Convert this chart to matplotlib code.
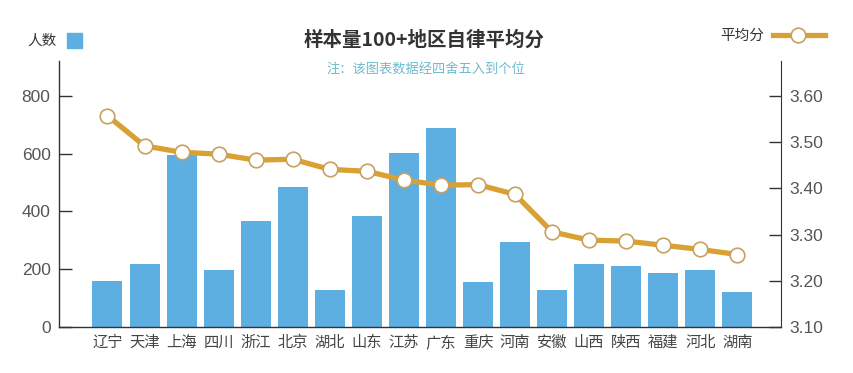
import numpy as np
import matplotlib.pyplot as plt
from matplotlib.patches import Rectangle
from matplotlib.lines import Line2D

plt.rcParams['font.family'] = ['Noto Sans CJK SC', 'DejaVu Sans']

# data
regions = ['辽宁', '天津', '上海', '四川', '浙江', '北京', '湖北', '山东', '江苏',
           '广东', '重庆', '河南', '安徽', '山西', '陕西', '福建', '河北', '湖南']
people = [161, 220, 595, 196, 366, 485, 130, 383, 603,
          689, 155, 293, 127, 217, 213, 187, 196, 123]
avg_score = [3.557, 3.492, 3.478, 3.474, 3.461, 3.463, 3.441, 3.437, 3.418,
             3.407, 3.408, 3.387, 3.306, 3.288, 3.286, 3.277, 3.268, 3.257]

left_ticks = [0, 200, 400, 600, 800]
right_ticks = [3.10, 3.20, 3.30, 3.40, 3.50, 3.60]

bar_c = '#5dafe2'
line_c = '#d9a032'
axis_c = '#333333'
text_c = '#555555'
num_font = ['Liberation Sans', 'DejaVu Sans']

fig = plt.figure(figsize=(8.54, 3.73), dpi=100)
ax = fig.add_axes([0.069, 0.123, 0.846, 0.713])
x = np.arange(len(regions))
ax.bar(x, people, width=0.81, color=bar_c, zorder=2)
ax.set_xlim(-1.31, 18.19)
ax.set_ylim(0, 920)
ax.set_yticks(left_ticks)
ax.set_yticklabels([str(v) for v in left_ticks], family=num_font, fontsize=12.5, color=text_c)
ax.set_xticks(x)
ax.set_xticklabels(regions, fontsize=11, color='#444444')
ax.tick_params(axis='x', length=0, pad=5)
ax.tick_params(axis='y', direction='in', length=9, width=1, color=axis_c, pad=6)
for s in ['top', 'right']:
    ax.spines[s].set_visible(False)
for s in ['left', 'bottom']:
    ax.spines[s].set_color(axis_c)
    ax.spines[s].set_linewidth(1)

ax2 = ax.twinx()
ax2.set_ylim(3.10, 3.10 + 920 / 1600)
ax2.plot(x, avg_score, color=line_c, lw=3.8, solid_capstyle='round', zorder=3)
ax2.plot(x, avg_score, 'o', ms=10.5, mfc='white', mec='#c8a060', mew=1.2, zorder=4)
ax2.set_yticks(right_ticks)
ax2.set_yticklabels(['%.2f' % v for v in right_ticks], family=num_font, fontsize=12.5, color=text_c)
ax2.tick_params(axis='y', direction='in', length=9, width=1, color=axis_c, pad=6)
for s in ['top', 'left', 'bottom']:
    ax2.spines[s].set_visible(False)
ax2.spines['right'].set_color(axis_c)

fig.text(0.497, 0.893, '样本量100+地区自律平均分', ha='center', va='center',
         fontsize=14, fontweight='bold', color='#333333')
fig.text(0.499, 0.812, '注：该图表数据经四舍五入到个位', ha='center', va='center',
         fontsize=9.5, color='#6cbccd')

# legends drawn by hand
fig.text(0.032, 0.89, '人数', ha='left', va='center', fontsize=10.5, color='#333333')
fig.patches.append(Rectangle((0.078, 0.87), 0.018, 0.041, transform=fig.transFigure,
                             color=bar_c, figure=fig))
fig.text(0.843, 0.905, '平均分', ha='left', va='center', fontsize=10.5, color='#333333')
fig.lines.append(Line2D([0.905, 0.966], [0.905, 0.905], transform=fig.transFigure,
                        color=line_c, lw=3.8, figure=fig))
fig.lines.append(Line2D([0.935], [0.905], transform=fig.transFigure, marker='o', ms=10.5,
                        mfc='white', mec='#c8a060', mew=1.2, figure=fig))

fig.savefig('out.png', dpi=100, facecolor='white')
